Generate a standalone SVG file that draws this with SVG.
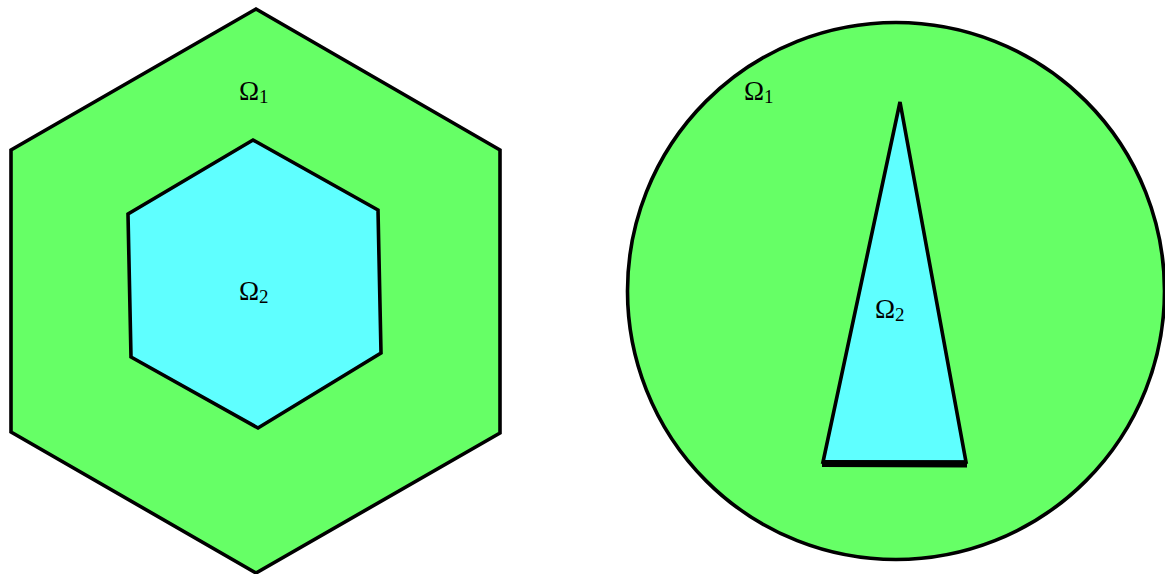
<svg xmlns="http://www.w3.org/2000/svg" width="1165" height="574" viewBox="0 0 1165 574">
<style>
.outer{fill:#66ff66;stroke:#000;stroke-width:3.6;stroke-linejoin:miter}
.inner{fill:#5fffff;stroke:#000;stroke-width:3.6;stroke-linejoin:miter}
.lbl{font-family:"Liberation Serif","DejaVu Serif",serif;font-size:27px;fill:#000}
.sub{font-size:19px}
</style>
<rect width="1165" height="574" fill="#fff"/>
<g id="hexagon-outer">
<polygon class="outer" points="256,9 500,150 500,433 256,573 11,432 11,150"/>
<text class="lbl" x="239" y="100">Ω<tspan class="sub" dy="3">1</tspan></text>
</g>
<g id="hexagon-inner">
<polygon class="inner" points="253,140 378,210 381,353 258,428 131,357 128,214"/>
<text class="lbl" x="239" y="300">Ω<tspan class="sub" dy="3">2</tspan></text>
</g>
<g id="circle">
<circle class="outer" cx="896" cy="291" r="268.5" stroke-width="2.8"/>
<text class="lbl" x="744" y="100">Ω<tspan class="sub" dy="3">1</tspan></text>
</g>
<g id="triangle">
<polygon class="inner" points="900,102 966,462 823,462" stroke-width="2.8"/>
<line x1="822" y1="463.5" x2="967" y2="464" stroke="#000" stroke-width="7"/>
<text class="lbl" x="875" y="318">Ω<tspan class="sub" dy="3">2</tspan></text>
</g>
<g id="connectors"/>
</svg>
